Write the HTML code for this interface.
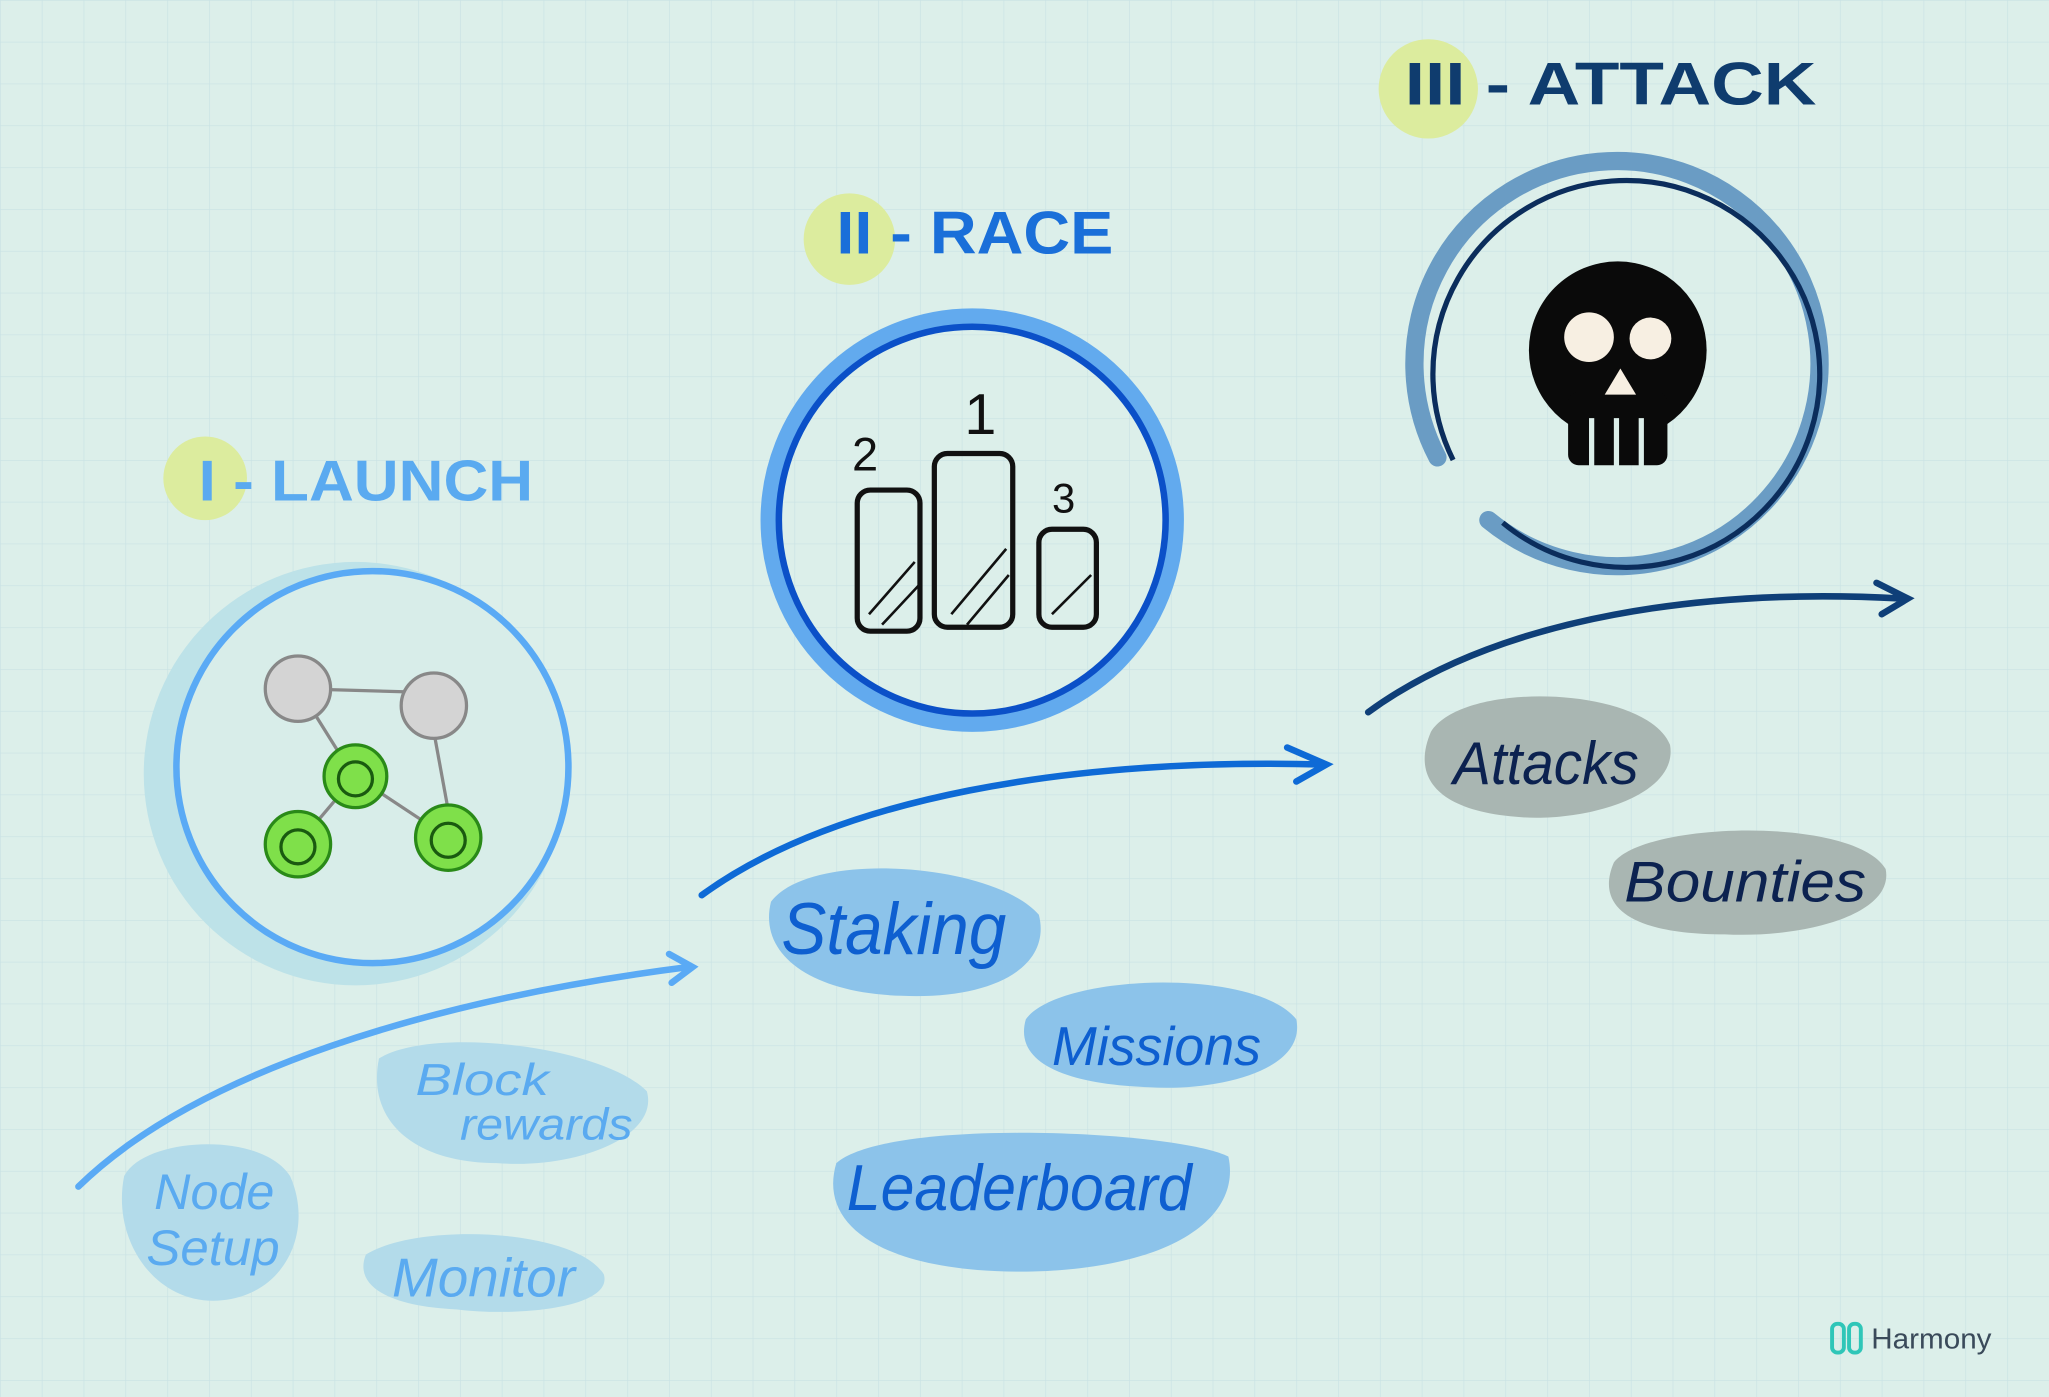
<!DOCTYPE html>
<html><head><meta charset="utf-8"><style>
html,body{margin:0;padding:0;width:2049px;height:1397px;overflow:hidden;background:#dcefea}
svg{display:block}
text{font-family:"Liberation Sans",sans-serif}
</style></head><body>
<svg width="2049" height="1397" viewBox="0 0 1568 1069" preserveAspectRatio="none" xmlns="http://www.w3.org/2000/svg">
<defs>
<pattern id="grid" width="32" height="32" patternUnits="userSpaceOnUse">
<path d="M32 0H0V32" fill="none" stroke="#c9e2e4" stroke-width="1"/>
</pattern>
</defs>
<rect width="1568" height="1069" fill="#dcefea"/>
<rect width="1568" height="1069" fill="url(#grid)"/>

<!-- Stage I -->
<g>
<circle cx="157" cy="366" r="32" fill="#dcec9e"/>
<text x="152" y="383" font-size="44" font-weight="bold" fill="#5aaaf0" textLength="256" lengthAdjust="spacingAndGlyphs">I - LAUNCH</text>
</g>
<g>
<circle cx="272" cy="592" r="162" fill="#bde2e8"/>
<circle cx="285" cy="587" r="150" fill="#d8ede9" stroke="#5aaaf5" stroke-width="5"/>
<g stroke="#888" stroke-width="2.5">
<line x1="228" y1="527" x2="332" y2="530"/>
<line x1="240" y1="545" x2="265" y2="585"/>
<line x1="332" y1="560" x2="343" y2="620"/>
<line x1="272" y1="594" x2="228" y2="646"/>
<line x1="272" y1="594" x2="343" y2="641"/>
<circle cx="228" cy="527" r="25" fill="#d4d4d4"/>
<circle cx="332" cy="540" r="25" fill="#d4d4d4"/>
<g fill="#7fe04a" stroke="#2a8a18">
<circle cx="272" cy="594" r="24"/><circle cx="228" cy="646" r="25"/><circle cx="343" cy="641" r="25"/>
</g>
<g fill="none" stroke="#1a5a10" stroke-width="2.5">
<circle cx="272" cy="596" r="13"/><circle cx="228" cy="648" r="13"/><circle cx="343" cy="643" r="13"/>
</g>
</g>
</g>
<path d="M60 908 C150 820 330 765 527 740 M512 730 L530 740 L514 752" fill="none" stroke="#5aaaf5" stroke-width="5" stroke-linecap="round"/>

<g>
<path d="M95 900 C110 870 200 865 222 900 C240 940 220 990 170 995 C120 1000 85 950 95 900Z" fill="#b3dbea"/>
<text x="118" y="925" font-size="38" font-style="italic" fill="#5aaaf0" textLength="92" lengthAdjust="spacingAndGlyphs">Node</text>
<text x="112" y="968" font-size="38" font-style="italic" fill="#5aaaf0" textLength="102" lengthAdjust="spacingAndGlyphs">Setup</text>
</g>
<g>
<path d="M290 810 C330 785 460 800 495 835 C505 870 440 895 380 890 C320 890 280 860 290 810Z" fill="#b3dbea"/>
<text x="318" y="838" font-size="34" font-style="italic" fill="#5aaaf0" textLength="102" lengthAdjust="spacingAndGlyphs">Block</text>
<text x="352" y="872" font-size="34" font-style="italic" fill="#5aaaf0" textLength="132" lengthAdjust="spacingAndGlyphs">rewards</text>
</g>
<g>
<path d="M280 960 C320 935 440 940 462 975 C470 1000 400 1008 350 1002 C300 1000 270 985 280 960Z" fill="#b3dbea"/>
<text x="300" y="992" font-size="42" font-style="italic" fill="#5aaaf0" textLength="140" lengthAdjust="spacingAndGlyphs">Monitor</text>
</g>

<!-- Stage II -->
<g>
<circle cx="650" cy="183" r="35" fill="#dcec9e"/>
<text x="640" y="194" font-size="46" font-weight="bold" fill="#1a6fd9" textLength="212" lengthAdjust="spacingAndGlyphs">II - RACE</text>
</g>
<g>
<circle cx="744" cy="398" r="155" fill="none" stroke="#62aaee" stroke-width="14"/>
<circle cx="744" cy="398" r="148" fill="none" stroke="#0b50c8" stroke-width="5"/>
<g stroke="#111" stroke-width="4" fill="none">
<rect x="656" y="375" width="48" height="108" rx="10"/>
<rect x="715" y="347" width="60" height="133" rx="10"/>
<rect x="795" y="405" width="44" height="75" rx="10"/>
<path d="M665 470 L700 430 M675 478 L703 448 M728 470 L770 420 M740 478 L772 440 M805 470 L835 440" stroke-width="2"/>
</g>
<text x="652" y="360" font-size="36" fill="#111">2</text>
<text x="738" y="332" font-size="44" fill="#111">1</text>
<text x="805" y="392" font-size="32" fill="#111">3</text>
</g>
<path d="M537 685 C640 610 820 580 1012 585 M985 572 L1015 585 L992 598" fill="none" stroke="#0e6ad6" stroke-width="5" stroke-linecap="round"/>

<g>
<path d="M590 690 C620 650 760 660 795 700 C805 740 760 765 690 762 C620 760 580 730 590 690Z" fill="#8cc3ea"/>
<text x="598" y="730" font-size="56" font-style="italic" fill="#0e5fd0" textLength="172" lengthAdjust="spacingAndGlyphs">Staking</text>
</g>
<g>
<path d="M785 780 C810 745 960 740 992 780 C1000 820 930 835 880 832 C820 830 775 815 785 780Z" fill="#8cc3ea"/>
<text x="805" y="815" font-size="42" font-style="italic" fill="#0e5fd0" textLength="160" lengthAdjust="spacingAndGlyphs">Missions</text>
</g>
<g>
<path d="M640 890 C680 855 900 865 940 885 C950 930 900 970 790 973 C680 975 625 940 640 890Z" fill="#8cc3ea"/>
<text x="648" y="926" font-size="50" font-style="italic" fill="#0e5fd0" textLength="264" lengthAdjust="spacingAndGlyphs">Leaderboard</text>
</g>

<!-- Stage III -->
<g>
<circle cx="1093" cy="68" r="38" fill="#dcec9e"/>
<text x="1075" y="80" font-size="46" font-weight="bold" fill="#0f3c6e" textLength="315" lengthAdjust="spacingAndGlyphs">III - ATTACK</text>
</g>
<g>
<path d="M1106 350 A155 155 0 1 1 1145 398" fill="none" stroke="#6a9cc4" stroke-width="14" stroke-linecap="round" transform="translate(-6 0)"/>
<path d="M1112 352 A148 148 0 1 1 1150 400" fill="none" stroke="#0b2d5c" stroke-width="4"/>
<g>
<circle cx="1238" cy="268" r="68" fill="#0a0a0a"/>
<rect x="1200" y="300" width="76" height="56" rx="8" fill="#0a0a0a"/>
<circle cx="1216" cy="258" r="19" fill="#f7efe2"/>
<circle cx="1263" cy="259" r="16" fill="#f7efe2"/>
<path d="M1240 282 L1228 302 L1252 302Z" fill="#f7efe2"/>
<g stroke="#dcefea" stroke-width="4"><line x1="1218" y1="320" x2="1218" y2="358"/><line x1="1237" y1="320" x2="1237" y2="358"/><line x1="1256" y1="320" x2="1256" y2="358"/></g>
</g>
</g>
<path d="M1047 545 C1150 470 1310 450 1455 458 M1436 446 L1460 458 L1440 470" fill="none" stroke="#0f3f78" stroke-width="5" stroke-linecap="round"/>

<g>
<path d="M1095 560 C1120 520 1260 525 1278 570 C1285 610 1210 630 1160 625 C1100 620 1080 595 1095 560Z" fill="#a9b6b2"/>
<text x="1112" y="600" font-size="46" font-style="italic" fill="#0c2250" textLength="142" lengthAdjust="spacingAndGlyphs">Attacks</text>
</g>
<g>
<path d="M1235 660 C1260 628 1420 625 1443 665 C1450 700 1380 718 1320 715 C1250 715 1220 695 1235 660Z" fill="#a9b6b2"/>
<text x="1243" y="690" font-size="44" font-style="italic" fill="#0c2250" textLength="185" lengthAdjust="spacingAndGlyphs">Bounties</text>
</g>

<g>
<rect x="1402" y="1013" width="9" height="22" rx="4" fill="none" stroke="#2fc6b8" stroke-width="3"/>
<rect x="1415" y="1013" width="9" height="22" rx="4" fill="none" stroke="#2fc6b8" stroke-width="3"/>
<text x="1432" y="1032" font-size="22" fill="#3a4a5a" textLength="92" lengthAdjust="spacingAndGlyphs">Harmony</text>
</g>
</svg>
</body></html>
